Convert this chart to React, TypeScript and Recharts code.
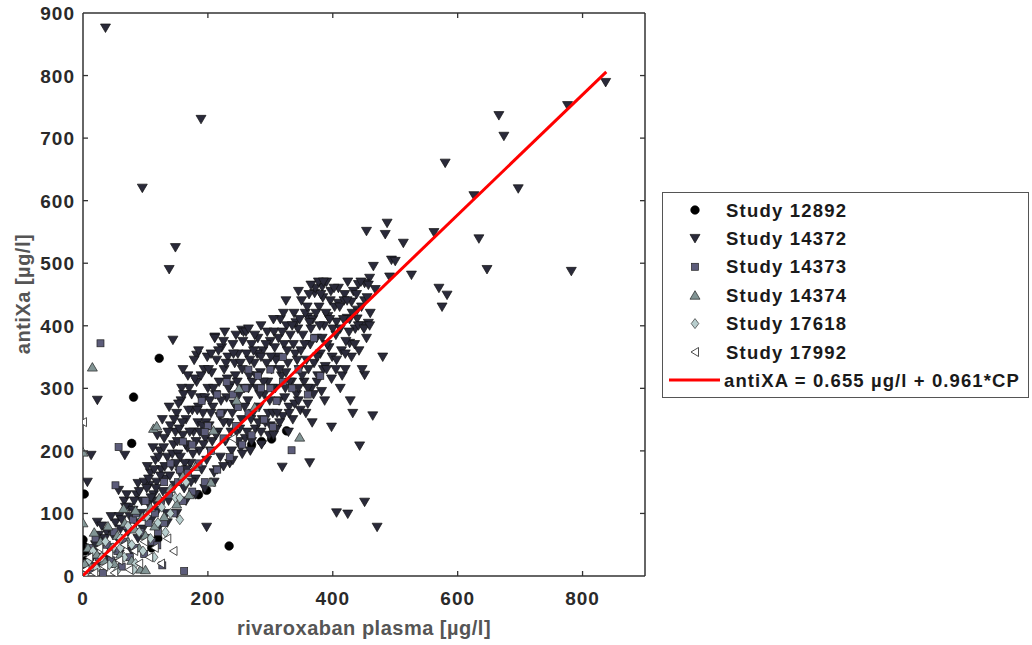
import React from 'react';
import { ScatterChart, Scatter, XAxis, YAxis } from 'recharts';

// tick values
const xTicks = [0, 200, 400, 600, 800];
const yTicks = [0, 100, 200, 300, 400, 500, 600, 700, 800, 900];

// Study 12892 (circles)
const study12892: number[][] = [
  [122, 348], [81, 286], [78, 212], [2, 131], [0, 58], [1, 48], [3, 40], [234, 48], [326, 232],
  [302, 219], [286, 215], [198, 137], [2, 10], [5, 25], [185, 130], [270, 210], [120, 60], [110, 45],
];

// Study 14372 (down triangles)
const study14372: number[][] = [
  // outliers
  [36, 876], [189, 730], [95, 620], [148, 525], [138, 490], [487, 564], [454, 551], [484, 546], [513, 532],
  [562, 549], [580, 660], [666, 736], [674, 703], [626, 608], [697, 619], [776, 752], [837, 789], [634, 539],
  [647, 490], [782, 487], [570, 460], [583, 449], [575, 430], [526, 481], [494, 505], [500, 503], [465, 495],
  [459, 476], [441, 466], [451, 468], [491, 478], [468, 458], [409, 436], [419, 450], [430, 438], [371, 452],
  [383, 462], [360, 414], [406, 406], [423, 412], [439, 411], [457, 404], [427, 372], [480, 350], [451, 321],
  [432, 260], [464, 256], [398, 238], [443, 208], [363, 181], [451, 118], [406, 101], [424, 99], [471, 78],
  [23, 281], [13, 193], [7, 150], [23, 86], [67, 193], [57, 137], [88, 148], [144, 377], [211, 382],
  [182, 353], [198, 78], [319, 174], [254, 393],
  // cluster
  [12, 25], [18, 40], [22, 15], [28, 55], [33, 30], [38, 70], [42, 45], [47, 20], [52, 85], [55, 60],
  [58, 35], [45, 95], [30, 80], [60, 75], [25, 65],
  [20, 50], [35, 60], [48, 65], [58, 95], [66, 120], [74, 110], [86, 130], [94, 120], [106, 145], [115, 120],
  [40, 25], [15, 30],
  [62, 90], [65, 50], [68, 110], [72, 70], [75, 95], [78, 40], [82, 120], [85, 85], [88, 60], [90, 135],
  [93, 100], [96, 75], [98, 150], [70, 130], [80, 105], [100, 60],
  [102, 140], [105, 115], [108, 165], [110, 90], [113, 130], [116, 185], [118, 150], [120, 105], [123, 200],
  [125, 170], [128, 135], [130, 220], [132, 155], [135, 190], [137, 120], [140, 240], [142, 175], [145, 210],
  [147, 145], [150, 260], [148, 230], [112, 205], [127, 250], [138, 270], [103, 175], [119, 225], [134, 100],
  [105, 155], [109, 125], [114, 170], [117, 140], [121, 190], [124, 160], [129, 205], [131, 175], [136, 230],
  [139, 160], [143, 195], [146, 250], [149, 180],
  [152, 195], [155, 165], [157, 280], [160, 225], [162, 140], [165, 250], [167, 205], [170, 300], [172, 180],
  [175, 265], [177, 230], [180, 155], [182, 310], [184, 245], [186, 200], [188, 285], [190, 170], [192, 260],
  [194, 330], [196, 220], [198, 185], [200, 300], [158, 300], [168, 320], [178, 345], [185, 270], [163, 180],
  [173, 150], [191, 240], [199, 350], [154, 235], [181, 215],
  [151, 215], [153, 275], [156, 190], [159, 245], [161, 290], [164, 210], [166, 170], [169, 265], [171, 230],
  [174, 290], [176, 195], [179, 315], [183, 265], [187, 230], [189, 320], [193, 210], [195, 285], [197, 245],
  [180, 130], [195, 140], [165, 120], [150, 100], [135, 85], [120, 75], [185, 360], [160, 330],
  [202, 240], [204, 200], [206, 325], [208, 270], [210, 165], [212, 290], [214, 345], [216, 230], [218, 310],
  [220, 190], [222, 365], [224, 260], [226, 330], [228, 215], [230, 285], [232, 350], [234, 245], [236, 305],
  [238, 200], [240, 370], [242, 275], [244, 320], [246, 230], [248, 355], [250, 290], [203, 280], [211, 380],
  [219, 255], [227, 390], [235, 180], [243, 340], [249, 215], [207, 215], [231, 315], [239, 260], [215, 170],
  [201, 330], [205, 260], [209, 300], [213, 225], [217, 360], [221, 280], [225, 245], [229, 340], [233, 300],
  [237, 230], [241, 355], [245, 270], [247, 310], [210, 150], [225, 175], [240, 185], [205, 355], [225, 375],
  [245, 385],
  [252, 340], [254, 250], [256, 375], [258, 300], [260, 220], [262, 355], [264, 280], [266, 320], [268, 200],
  [270, 370], [272, 260], [274, 340], [276, 235], [278, 300], [280, 380], [282, 270], [284, 325], [286, 210],
  [288, 360], [290, 290], [292, 245], [294, 340], [296, 310], [298, 225], [300, 375], [257, 390], [263, 230],
  [271, 310], [279, 355], [287, 250], [295, 390], [253, 205], [267, 345], [283, 290], [299, 280], [275, 385],
  [251, 235], [255, 330], [259, 270], [261, 390], [265, 300], [269, 250], [273, 360], [277, 320], [281, 245],
  [285, 350], [289, 310], [293, 370], [297, 260], [255, 195], [270, 215], [285, 230], [300, 240], [265, 395],
  [285, 400],
  [302, 330], [304, 260], [306, 390], [308, 300], [310, 235], [312, 350], [314, 280], [316, 410], [318, 320],
  [320, 255], [322, 370], [324, 300], [326, 400], [328, 340], [330, 270], [332, 385], [334, 310], [336, 250],
  [338, 420], [340, 355], [342, 290], [344, 395], [346, 330], [348, 265], [350, 440], [305, 225], [313, 380],
  [321, 420], [329, 230], [337, 370], [345, 300], [309, 345], [325, 325], [341, 405], [349, 360],
  [301, 350], [303, 300], [307, 365], [311, 260], [315, 330], [319, 390], [323, 285], [327, 360], [331, 310],
  [335, 400], [339, 275], [343, 345], [347, 410], [315, 245], [330, 260], [345, 280], [305, 410], [325, 440],
  [345, 455],
  [352, 385], [354, 310], [356, 420], [358, 345], [360, 275], [362, 450], [364, 370], [366, 300], [368, 410],
  [370, 340], [372, 460], [374, 380], [376, 320], [378, 430], [380, 355], [382, 295], [384, 445], [386, 400],
  [388, 335], [390, 470], [392, 415], [394, 365], [396, 440], [398, 315], [400, 395], [357, 260], [367, 245],
  [377, 470], [387, 280], [397, 455], [363, 405], [383, 380],
  [351, 320], [355, 370], [359, 430], [361, 330], [365, 395], [369, 290], [373, 420], [375, 350], [379, 400],
  [381, 450], [385, 330], [389, 420], [391, 370], [395, 410], [399, 350], [360, 300], [375, 310], [390, 330],
  [365, 465], [385, 470],
  [403, 430], [406, 345], [409, 460], [412, 395], [415, 320], [418, 440], [421, 375], [424, 470], [427, 410],
  [430, 350], [433, 455], [436, 395], [439, 425], [442, 360], [445, 470], [448, 400], [451, 440], [454, 380],
  [457, 465], [460, 420], [412, 300], [428, 280], [447, 330],
  [402, 460], [405, 385], [411, 430], [414, 360], [417, 410], [420, 330], [423, 440], [426, 390], [431, 420],
  [435, 370], [438, 450], [441, 400], [446, 430], [450, 395], [455, 445], [459, 400], [405, 330], [420, 355],
];

// Study 14373 (squares)
const study14373: number[][] = [
  [5, 20], [10, 45], [15, 10], [20, 60], [25, 30], [32, 5], [38, 50], [45, 25], [50, 70], [55, 40], [62, 15],
  [68, 55], [75, 30], [80, 90], [85, 45], [92, 70], [98, 35], [105, 85], [110, 55], [115, 100], [120, 70],
  [125, 120], [130, 85], [138, 130], [145, 100], [152, 150], [160, 120], [168, 165], [175, 135], [185, 180],
  [195, 150], [205, 200], [215, 170], [225, 220], [235, 190], [245, 240], [255, 210], [265, 260], [270, 225],
  [285, 300], [290, 250], [300, 330], [310, 280], [320, 350], [335, 300], [345, 330], [360, 290], [370, 380],
  [380, 320], [28, 372], [162, 8], [334, 201], [304, 238], [57, 206], [52, 145], [127, 17], [119, 49],
  [248, 270], [265, 330], [230, 310], [160, 215], [190, 280],
  [140, 180], [175, 210], [200, 240], [220, 260], [240, 290], [260, 300], [280, 320], [300, 300], [320, 310],
  [215, 290], [155, 170], [130, 150], [100, 120], [85, 100], [70, 80], [195, 230],
];

// Study 14374 (up triangles)
const study14374: number[][] = [
  [15, 334], [0, 198], [0, 85], [113, 236], [347, 222], [65, 108], [84, 105], [92, 11], [209, 233], [246, 281],
  [3, 20], [8, 45], [12, 15], [18, 70], [22, 35], [28, 55], [34, 25], [40, 80], [45, 45], [50, 20], [55, 65],
  [60, 35], [67, 85], [72, 55], [78, 25], [83, 75], [90, 45], [95, 95], [100, 65], [108, 110], [115, 80],
  [122, 125], [130, 95], [140, 140], [150, 115], [160, 160], [170, 130], [118, 240], [180, 175], [100, 10],
  [250, 300], [275, 270], [205, 150],
];

// Study 17618 (diamonds)
const study17618: number[][] = [
  [5, 5], [10, 25], [16, 40], [22, 12], [30, 30], [36, 55], [42, 18], [48, 45], [54, 8], [60, 60], [66, 30],
  [72, 80], [78, 50], [84, 20], [90, 70], [96, 40], [102, 95], [108, 60], [114, 30], [120, 85], [126, 110],
  [132, 70], [140, 100], [148, 125], [155, 90], [81, 10], [155, 125], [165, 150], [60, 45],
];

// Study 17992 (left triangles)
const study17992: number[][] = [
  [0, 246], [4, 10], [10, 30], [18, 5], [26, 45], [34, 15], [42, 35], [50, 5], [58, 25], [66, 50], [74, 10],
  [82, 40], [90, 20], [98, 55], [106, 30], [115, 45], [125, 20], [135, 60], [145, 40], [240, 220],
];

// regression line end points
const regLine: number[][] = [[0, 0.655], [838, 806]];

const toPts = (arr: number[][]) => arr.map(([x, y]) => ({ x, y }));

const FONT = '"Liberation Sans", Arial, sans-serif';

const Circle = ({ cx, cy }: any) => <circle cx={cx} cy={cy} r={4.3} fill="#000" stroke="#000" strokeWidth={0.6} />;
const TriDown = ({ cx, cy }: any) => (
  <path d={`M${cx - 5},${cy - 4}L${cx + 5},${cy - 4}L${cx},${cy + 4.5}Z`} fill="#2a2a3a" stroke="#111" strokeWidth={0.7} />
);
const Square = ({ cx, cy }: any) => (
  <rect x={cx - 3.5} y={cy - 3.5} width={7} height={7} fill="#5c5c7a" stroke="#222" strokeWidth={0.7} />
);
const TriUp = ({ cx, cy }: any) => (
  <path d={`M${cx - 5},${cy + 4}L${cx + 5},${cy + 4}L${cx},${cy - 4.5}Z`} fill="#819494" stroke="#222" strokeWidth={0.7} />
);
const Diamond = ({ cx, cy }: any) => (
  <path d={`M${cx},${cy - 5}L${cx + 3.8},${cy}L${cx},${cy + 5}L${cx - 3.8},${cy}Z`} fill="#b8cece" stroke="#333" strokeWidth={0.7} />
);
const TriLeft = ({ cx, cy }: any) => (
  <path d={`M${cx + 3.5},${cy - 4.5}L${cx + 3.5},${cy + 4.5}L${cx - 4},${cy}Z`} fill="#fff" stroke="#222" strokeWidth={0.8} />
);

const tickText = { fontFamily: FONT, fontWeight: 700, fontSize: 19, letterSpacing: 1, fill: '#2a2a2a' };

const BottomTick = ({ x, y, payload }: any) => (
  <g>
    {payload.value !== 0 && <line x1={x} y1={y} x2={x} y2={y - 5} stroke="#333" strokeWidth={1.3} />}
    <text x={x} y={y + 29} textAnchor="middle" {...tickText}>{payload.value}</text>
  </g>
);
const TopTick = ({ x, y, payload }: any) =>
  payload.value === 0 ? <g /> : <line x1={x} y1={y} x2={x} y2={y + 5} stroke="#333" strokeWidth={1.3} />;
const LeftTick = ({ x, y, payload }: any) => (
  <g>
    {payload.value !== 0 && payload.value !== 900 && <line x1={x} y1={y} x2={x + 5} y2={y} stroke="#333" strokeWidth={1.3} />}
    <text x={x - 8} y={y + 7} textAnchor="end" {...tickText}>{payload.value}</text>
  </g>
);
const RightTick = ({ x, y, payload }: any) =>
  payload.value === 0 || payload.value === 900 ? <g /> : <line x1={x} y1={y} x2={x - 5} y2={y} stroke="#333" strokeWidth={1.3} />;

const legendItems = [
  { name: 'Study 12892', Shape: Circle },
  { name: 'Study 14372', Shape: TriDown },
  { name: 'Study 14373', Shape: Square },
  { name: 'Study 14374', Shape: TriUp },
  { name: 'Study 17618', Shape: Diamond },
  { name: 'Study 17992', Shape: TriLeft },
];

const LegendBox = () => (
  <svg width={367} height={206} style={{ position: 'absolute', left: 662, top: 192 }}>
    <rect x={0.5} y={0.5} width={366} height={205} fill="#fff" stroke="#555" strokeWidth={1} />
    {legendItems.map((it, i) => {
      const cy = 18 + i * 28.4;
      return (
        <g key={it.name}>
          <it.Shape cx={33} cy={cy} />
          <text x={64} y={cy + 6.5} fontFamily={FONT} fontWeight={700} fontSize={18.5} letterSpacing={1.2} fill="#1a1a1a">
            {it.name}
          </text>
        </g>
      );
    })}
    <line x1={7} y1={188} x2={58} y2={188} stroke="#ff0000" strokeWidth={3} />
    <text x={62} y={194.5} fontFamily={FONT} fontWeight={700} fontSize={18.5} letterSpacing={1.1} fill="#1a1a1a">
      antiXA = 0.655 µg/l + 0.961*CP
    </text>
  </svg>
);

const noShape = () => <g />;

export default function App() {
  const axisLine = { stroke: '#333', strokeWidth: 1.5 };
  return (
    <div style={{ position: 'absolute', left: 0, top: 0, width: 1032, height: 645, background: '#fff' }}>
      <ScatterChart width={1032} height={645} margin={{ top: 12, right: 386, bottom: 9, left: 0 }}>
        <XAxis xAxisId="b" type="number" dataKey="x" domain={[0, 900]} ticks={xTicks} interval={0} allowDataOverflow
          height={60} tickSize={0} tickMargin={0} axisLine={axisLine} tickLine={false} tick={<BottomTick />} />
        <XAxis xAxisId="t" orientation="top" type="number" dataKey="x" domain={[0, 900]} ticks={xTicks} interval={0}
          allowDataOverflow height={1} tickSize={0} tickMargin={0} axisLine={axisLine} tickLine={false} tick={<TopTick />} />
        <YAxis yAxisId="l" type="number" dataKey="y" domain={[0, 900]} ticks={yTicks} interval={0} allowDataOverflow
          width={83} tickSize={0} tickMargin={0} axisLine={axisLine} tickLine={false} tick={<LeftTick />} />
        <YAxis yAxisId="r" orientation="right" type="number" dataKey="y" domain={[0, 900]} ticks={yTicks} interval={0}
          allowDataOverflow width={1} tickSize={0} tickMargin={0} axisLine={axisLine} tickLine={false} tick={<RightTick />} />
        <Scatter xAxisId="t" yAxisId="r" name="frame" data={toPts(regLine)} shape={noShape} isAnimationActive={false} />
        <Scatter xAxisId="b" yAxisId="l" name="Study 12892" data={toPts(study12892)} shape={<Circle />} isAnimationActive={false} />
        <Scatter xAxisId="b" yAxisId="l" name="Study 14372" data={toPts(study14372)} shape={<TriDown />} isAnimationActive={false} />
        <Scatter xAxisId="b" yAxisId="l" name="Study 14373" data={toPts(study14373)} shape={<Square />} isAnimationActive={false} />
        <Scatter xAxisId="b" yAxisId="l" name="Study 14374" data={toPts(study14374)} shape={<TriUp />} isAnimationActive={false} />
        <Scatter xAxisId="b" yAxisId="l" name="Study 17618" data={toPts(study17618)} shape={<Diamond />} isAnimationActive={false} />
        <Scatter xAxisId="b" yAxisId="l" name="Study 17992" data={toPts(study17992)} shape={<TriLeft />} isAnimationActive={false} />
        <Scatter xAxisId="b" yAxisId="l" name="fit" data={toPts(regLine)} line={{ stroke: '#ff0000', strokeWidth: 3 }}
          shape={noShape} isAnimationActive={false} />
      </ScatterChart>
      <svg width={1032} height={645} style={{ position: 'absolute', left: 0, top: 0, pointerEvents: 'none' }}>
        <text x={364} y={635} textAnchor="middle" fontFamily={FONT} fontWeight={700} fontSize={20} letterSpacing={0.5} fill="#555">
          rivaroxaban plasma [µg/l]
        </text>
        <text transform="translate(30,294) rotate(-90)" textAnchor="middle" fontFamily={FONT} fontWeight={700} fontSize={20}
          letterSpacing={0.5} fill="#555">
          antiXa [µg/l]
        </text>
      </svg>
      <LegendBox />
    </div>
  );
}
